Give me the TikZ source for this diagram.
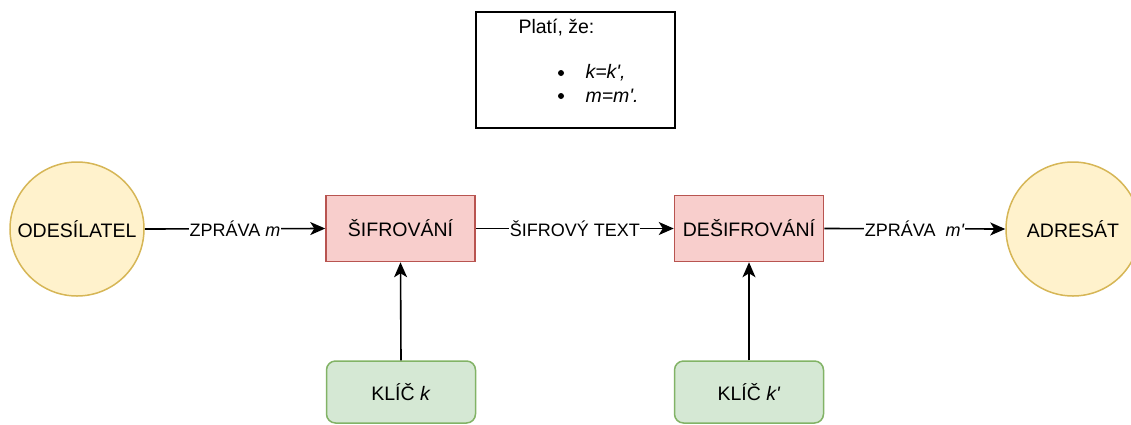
\documentclass[tikz,border=0pt]{standalone}
\usepackage{fontspec}
\setmainfont{Liberation Sans}
\usetikzlibrary{arrows.meta}
\definecolor{yfill}{HTML}{FFF2CC}
\definecolor{ydraw}{HTML}{D6B656}
\definecolor{rfill}{HTML}{F8CECC}
\definecolor{rdraw}{HTML}{B85450}
\definecolor{gfill}{HTML}{D5E8D4}
\definecolor{gdraw}{HTML}{82B366}
\tikzset{
  txt/.style={font=\fontsize{19.5}{23}\selectfont},
  party/.style={circle, draw=ydraw, fill=yfill, line width=1.5pt, minimum size=134pt, inner sep=0pt, txt},
  proc/.style={rectangle, draw=rdraw, fill=rfill, line width=1.5pt, minimum width=149pt, minimum height=66pt, inner sep=0pt, txt},
  keybox/.style={rectangle, rounded corners=9pt, draw=gdraw, fill=gfill, line width=1.5pt, minimum width=149pt, minimum height=62pt, inner sep=0pt, txt},
  conn/.style={line width=1.6pt, -{Stealth[length=15pt,width=13pt,inset=4pt]}},
  lbl/.style={fill=white, inner sep=0.5pt, font=\fontsize{18}{21}\selectfont},
  dotb/.style={circle, fill=black, inner sep=0pt, minimum size=6pt},
}
\begin{document}
\begin{tikzpicture}[x=1pt, y=-1pt]
\useasboundingbox (0,0) rectangle (1131,424);
\begin{scope}
\clip (0,0) rectangle (1131,424);
% note box
\node[draw, line width=1.6pt, minimum width=199pt, minimum height=116pt, inner sep=0pt] (note) at (575.5,70) {};
\node[txt, anchor=base west] (t1) at (515,33) {Platí, že:};
\node[dotb] (b1) at (561,73) {};
\node[txt, anchor=base west] (t2) at (582,78) {\textit{k=k\textquotesingle,}};
\node[dotb] (b2) at (561,96) {};
\node[txt, anchor=base west] (t3) at (582,102) {\textit{m=m\textquotesingle.}};
% main nodes
\node[party] (snd) at (77,229) {ODESÍLATEL};
\node[proc] (enc) at (400.5,228.5) {ŠIFROVÁNÍ};
\node[proc] (dec) at (749,228.5) {DEŠIFROVÁNÍ};
\node[party] (rcv) at (1073,229) {ADRESÁT};
\node[keybox] (k1) at (401,392) {KLÍČ \textit{k}};
\node[keybox] (k2) at (749,392) {KLÍČ \textit{k\textquotesingle}};
% connectors
\draw[conn] (snd.east) -- node[lbl] {ZPRÁVA \textit{m}} (enc.west);
\draw[conn] (enc.east) -- node[lbl] {ŠIFROVÝ TEXT} (dec.west);
\draw[conn] (dec.east) -- node[lbl] {ZPRÁVA\ \ \textit{m\textquotesingle}} (rcv.west);
\draw[conn] (k1.north) -- (enc.south);
\draw[conn] (k2.north) -- (dec.south);
\end{scope}
\end{tikzpicture}
\end{document}
